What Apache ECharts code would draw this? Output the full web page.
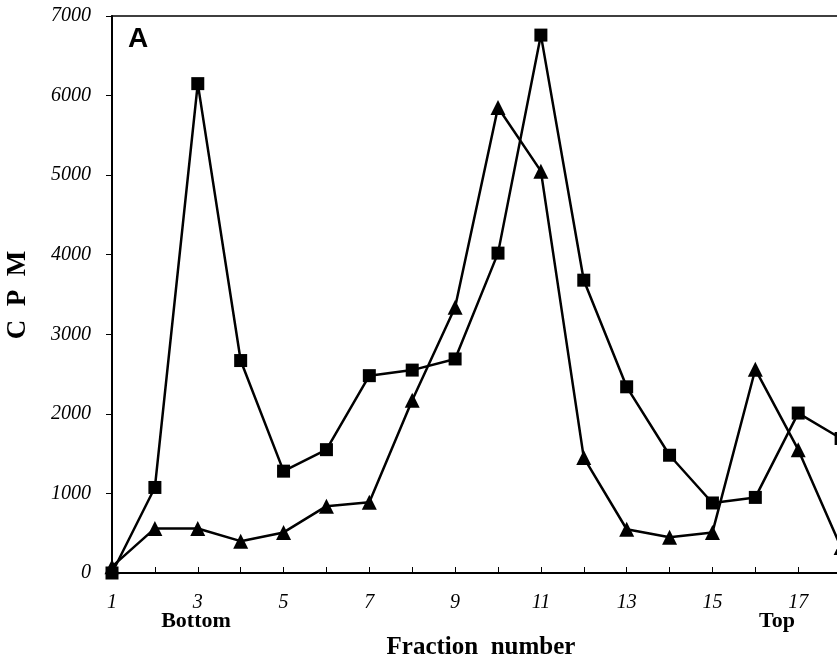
<!DOCTYPE html>
<html>
<head>
<meta charset="utf-8">
<script src="https://cdn.jsdelivr.net/npm/echarts@6/dist/echarts.min.js"></script>
<style>
  html, body { margin: 0; padding: 0; background: #fff; }
  #chart-container { width: 837px; height: 659px; }
</style>
</head>
<body>
<div id="chart-container"></div>
<script>
// fraction numbers 1..18
const fractions = [1, 2, 3, 4, 5, 6, 7, 8, 9, 10, 11, 12, 13, 14, 15, 16, 17, 18];
// squares
const squareCpm = [0, 1075, 6150, 2670, 1280, 1550, 2480, 2550, 2690, 4020, 6760, 3680, 2340, 1480, 880, 950, 2010, 1690];
// triangles
const triangleCpm = [80, 560, 560, 400, 510, 840, 890, 2170, 3340, 5850, 5050, 1450, 550, 450, 510, 2560, 1550, 320];
const xLabels = [1, 3, 5, 7, 9, 11, 13, 15, 17];

const serif = "'Liberation Serif', 'Times New Roman', serif";

const myChart = echarts.init(document.getElementById('chart-container'));

function pairs(ys) {
  return fractions.map((x, i) => [x, ys[i]]);
}

myChart.setOption({
  animation: false,
  backgroundColor: '#fff',
  grid: {
    left: 112,
    top: 16,
    width: 772,   // runs past the right edge, like the cropped figure
    height: 557,
    outerBoundsMode: 'none',
    containLabel: false,
    show: true,
    borderColor: '#000',
    borderWidth: 1.5
  },
  xAxis: {
    type: 'value',
    min: 1,
    max: 19,
    interval: 1,
    axisLine: { lineStyle: { color: '#000', width: 2 } },
    axisTick: { inside: true, length: 6, lineStyle: { color: '#000', width: 1 } },
    splitLine: { show: false },
    axisLabel: {
      margin: 20,
      color: '#000',
      fontFamily: serif,
      fontStyle: 'italic',
      fontSize: 20,
      formatter: v => (xLabels.includes(v) ? String(v) : '')
    }
  },
  yAxis: {
    type: 'value',
    min: 0,
    max: 7000,
    interval: 1000,
    axisLine: { show: true, lineStyle: { color: '#000', width: 2 } },
    axisTick: { show: true, length: 6, lineStyle: { color: '#000', width: 1 } },
    splitLine: { show: false },
    axisLabel: {
      margin: 21,
      color: '#000',
      fontFamily: serif,
      fontStyle: 'italic',
      fontSize: 20,
      formatter: v => String(v)
    }
  },
  series: [
    {
      name: 'squares',
      type: 'line',
      data: pairs(squareCpm),
      symbol: 'rect',
      symbolSize: 13,
      lineStyle: { color: '#000', width: 2.5 },
      itemStyle: { color: '#000' }
    },
    {
      name: 'triangles',
      type: 'line',
      data: pairs(triangleCpm),
      symbol: 'triangle',
      symbolSize: 15,
      lineStyle: { color: '#000', width: 2.5 },
      itemStyle: { color: '#000' }
    }
  ],
  graphic: [
    {
      type: 'text', left: 128, top: 25,
      style: { text: 'A', fontFamily: "'Liberation Sans', Arial, sans-serif", fontWeight: 'bold', fontSize: 28, fill: '#000' }
    },
    {
      type: 'text', x: 18, y: 295, rotation: Math.PI / 2,
      style: { text: 'C  P  M', fontFamily: serif, fontWeight: 'bold', fontSize: 27, fill: '#000', align: 'center', verticalAlign: 'middle' }
    },
    {
      type: 'text', x: 196, y: 621,
      style: { text: 'Bottom', fontFamily: serif, fontWeight: 'bold', fontSize: 22, fill: '#000', align: 'center', verticalAlign: 'middle' }
    },
    {
      type: 'text', x: 777, y: 621,
      style: { text: 'Top', fontFamily: serif, fontWeight: 'bold', fontSize: 22, fill: '#000', align: 'center', verticalAlign: 'middle' }
    },
    {
      type: 'text', x: 481, y: 648,
      style: { text: 'Fraction  number', fontFamily: serif, fontWeight: 'bold', fontSize: 25, fill: '#000', align: 'center', verticalAlign: 'middle' }
    }
  ]
});
</script>
</body>
</html>
